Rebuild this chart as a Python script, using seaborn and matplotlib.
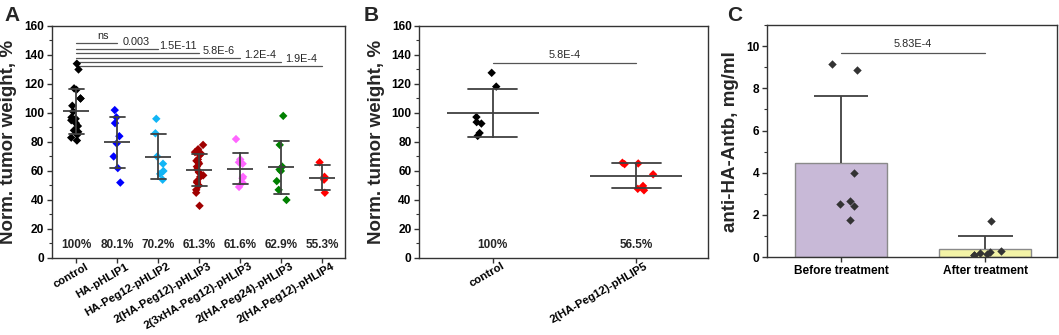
import numpy as np
import pandas as pd
import matplotlib
matplotlib.use("Agg")
import matplotlib.pyplot as plt
import matplotlib.transforms as mtrans
import seaborn as sns
from matplotlib.ticker import MultipleLocator

sns.set_theme(style="ticks")
plt.rcParams['font.family'] = ['Liberation Sans', 'DejaVu Sans']

# ---------------- data ----------------
groups_a = ["control", "HA-pHLIP1", "HA-Peg12-pHLIP2", "2(HA-Peg12)-pHLIP3",
            "2(3xHA-Peg12)-pHLIP3", "2(HA-Peg24)-pHLIP3", "2(HA-Peg12)-pHLIP4"]
control_a = [134, 130, 117, 116, 110, 110, 105, 101, 97, 96, 95, 93, 91, 88, 87, 85, 83, 81]
pHLIP1_a = [102, 97, 93, 84, 79, 70, 62, 52]
pHLIP2_a = [96, 86, 70, 65, 60, 58, 54]
pHLIP3_a = [78, 75, 73, 72, 71, 68, 67, 66, 65, 63, 61, 59, 57, 56, 53, 52, 50, 47, 45, 36]
pHLIP3x_a = [82, 68, 66, 65, 56, 55, 52, 49]
pHLIP3p24_a = [98, 78, 63, 61, 60, 53, 47, 40]
pHLIP4_a = [66, 56, 54, 45]
values_a = [control_a, pHLIP1_a, pHLIP2_a, pHLIP3_a, pHLIP3x_a, pHLIP3p24_a, pHLIP4_a]
pct_a = ["100%", "80.1%", "70.2%", "61.3%", "61.6%", "62.9%", "55.3%"]
pvals_a = ["ns", "0.003", "1.5E-11", "5.8E-6", "1.2E-4", "1.9E-4"]
colors_a = ["#000000", "#0000FF", "#12B5F5", "#A00000", "#FF66FF", "#008000", "#FF0000"]

groups_b = ["control", "2(HA-Peg12)-pHLIP5"]
control_b = [127.5, 118, 97, 93.5, 92.5, 86, 84]
pHLIP5_b = [65.5, 65, 64.5, 57.5, 49.5, 47.5, 46.5]
pct_b = ["100%", "56.5%"]
pval_b = "5.8E-4"
colors_b = ["#000000", "#FF0000"]

groups_c = ["Before treatment", "After treatment"]
before_c = [9.15, 8.85, 3.97, 2.67, 2.5, 2.4, 1.77]
after_c = [1.7, 0.3, 0.25, 0.2, 0.15, 0.1, 0.1]
pval_c = "5.83E-4"
colors_c = ["#C8B4DC", "#FFFF99"]

# ---------------- figure ----------------
fig = plt.figure(figsize=(10.59, 3.35), dpi=100)
axA = fig.add_axes([0.0488, 0.2299, 0.2770, 0.6925])
axB = fig.add_axes([0.3960, 0.2307, 0.2726, 0.6926])
axC = fig.add_axes([0.7243, 0.2328, 0.2740, 0.6922])

ERR = "#404040"
TICKFS = 8.6
XLFS = 8.2
PFS = 7.8
np.random.seed(3)


def long_df(groups, vals):
    return pd.DataFrame({"group": np.repeat(groups, [len(v) for v in vals]),
                         "value": np.concatenate([np.asarray(v, float) for v in vals])})


def style_axes(ax):
    for s in ax.spines.values():
        s.set_color("#333333")
        s.set_linewidth(1.0)
    ax.tick_params(axis="both", which="major", direction="out", length=3.5, width=1,
                   color="#333333", labelsize=TICKFS, pad=2, labelcolor="black")
    ax.tick_params(axis="y", which="minor", direction="out", length=2, width=0.8, color="#333333")
    ax.tick_params(axis="x", which="minor", bottom=False)


def scatter_panel(ax, groups, vals, colors, xlim, meanw, capw):
    df = long_df(groups, vals)
    sns.stripplot(data=df, x="group", y="value", hue="group", palette=colors,
                  order=groups, hue_order=groups, jitter=0.13, marker="D", size=4.3,
                  linewidth=0, legend=False, ax=ax, zorder=2)
    sns.pointplot(data=df, x="group", y="value", order=groups, errorbar="sd",
                  capsize=capw, color=ERR, linestyle="none", marker="_",
                  markersize=meanw, markeredgewidth=1.3,
                  err_kws={"linewidth": 1.3}, ax=ax, zorder=3)
    ax.set_xlim(*xlim)
    ax.set_ylim(0, 160)
    ax.yaxis.set_major_locator(MultipleLocator(20))
    ax.yaxis.set_minor_locator(MultipleLocator(10))
    ax.set_xlabel("")
    ax.set_ylabel("Norm. tumor weight, %", fontsize=13.5, fontweight="bold", labelpad=5)


def rotated_xlabels(ax, groups):
    ax.set_xticks(range(len(groups)))
    labs = ax.set_xticklabels(groups, rotation=30, ha="right", va="center",
                              rotation_mode="anchor", fontsize=XLFS, fontweight="bold")
    off = mtrans.ScaledTranslation(0.11, 0.0, fig.dpi_scale_trans)
    for lab in labs:
        lab.set_transform(lab.get_transform() + off)


# ---- Panel A ----
scatter_panel(axA, groups_a, values_a, colors_a, (-0.6, 6.55), 19, 0.37)
style_axes(axA)
rotated_xlabels(axA, groups_a)
for i, t in enumerate(pct_a):
    axA.text(i, 9, t, ha="center", va="center", fontsize=8.5, fontweight="bold")
line_levels_a = [148.1, 144.4, 141.2, 138.0, 135.2, 132.6]
for k, (lvl, p) in enumerate(zip(line_levels_a, pvals_a)):
    axA.plot([0, k + 1], [lvl, lvl], color="#555555", lw=0.9, zorder=1)
    xt = 0.65 if k == 0 else k + 0.47
    axA.text(xt, lvl + 1.4, p, ha="center", va="bottom", fontsize=PFS)

# ---- Panel B ----
scatter_panel(axB, groups_b, [control_b, pHLIP5_b], colors_b, (-0.51, 1.5), 66, 0.34)
style_axes(axB)
rotated_xlabels(axB, groups_b)
for i, t in enumerate(pct_b):
    axB.text(i, 9, t, ha="center", va="center", fontsize=8.5, fontweight="bold")
axB.plot([0, 1], [134.5, 134.5], color="#555555", lw=0.9)
axB.text(0.5, 136.5, pval_b, ha="center", va="bottom", fontsize=PFS)

# ---- Panel C ----
dfc = long_df(groups_c, [before_c, after_c])
sns.barplot(data=dfc, x="group", y="value", hue="group", palette=colors_c,
            order=groups_c, hue_order=groups_c, errorbar=None, width=0.64,
            edgecolor="#8a8a8a", linewidth=1.0, legend=False, ax=axC, zorder=1)
means_c = dfc.groupby("group", sort=False)["value"].mean().reindex(groups_c).values
sds_c = dfc.groupby("group", sort=False)["value"].std().reindex(groups_c).values
xc = np.arange(len(groups_c))
axC.vlines(xc, means_c, means_c + sds_c, color=ERR, lw=1.3, zorder=2)
axC.hlines(means_c + sds_c, xc - 0.19, xc + 0.19, color=ERR, lw=1.3, zorder=2)
sns.stripplot(data=dfc, x="group", y="value", order=groups_c, color="#333333",
              jitter=0.13, marker="D", size=4.3, linewidth=0, ax=axC, zorder=3)
axC.set_xlim(-0.514, 1.5)
axC.set_ylim(0, 11)
axC.yaxis.set_major_locator(MultipleLocator(2))
axC.yaxis.set_minor_locator(MultipleLocator(1))
axC.set_xlabel("")
axC.set_ylabel("anti-HA-Antb, mg/ml", fontsize=13.5, fontweight="bold", labelpad=5)
style_axes(axC)
axC.set_xticks(range(len(groups_c)))
axC.set_xticklabels(groups_c, fontsize=8.6, fontweight="bold")
axC.plot([0, 1], [9.68, 9.68], color="#555555", lw=0.9)
axC.text(0.5, 9.85, pval_c, ha="center", va="bottom", fontsize=PFS)

# bold tick labels
for ax in (axA, axB, axC):
    yt = ax.get_yticks()
    yt = [v for v in yt if ax.get_ylim()[0] <= v <= ax.get_ylim()[1]]
    ax.set_yticks(yt)
    ax.set_yticklabels([f"{v:g}" for v in yt], fontsize=TICKFS, fontweight="bold")

# panel letters
fig.text(0.004, 0.955, "A", fontsize=15, fontweight="bold", va="center")
fig.text(0.343, 0.955, "B", fontsize=15, fontweight="bold", va="center")
fig.text(0.687, 0.955, "C", fontsize=15, fontweight="bold", va="center")

fig.savefig("out.png", dpi=100)
